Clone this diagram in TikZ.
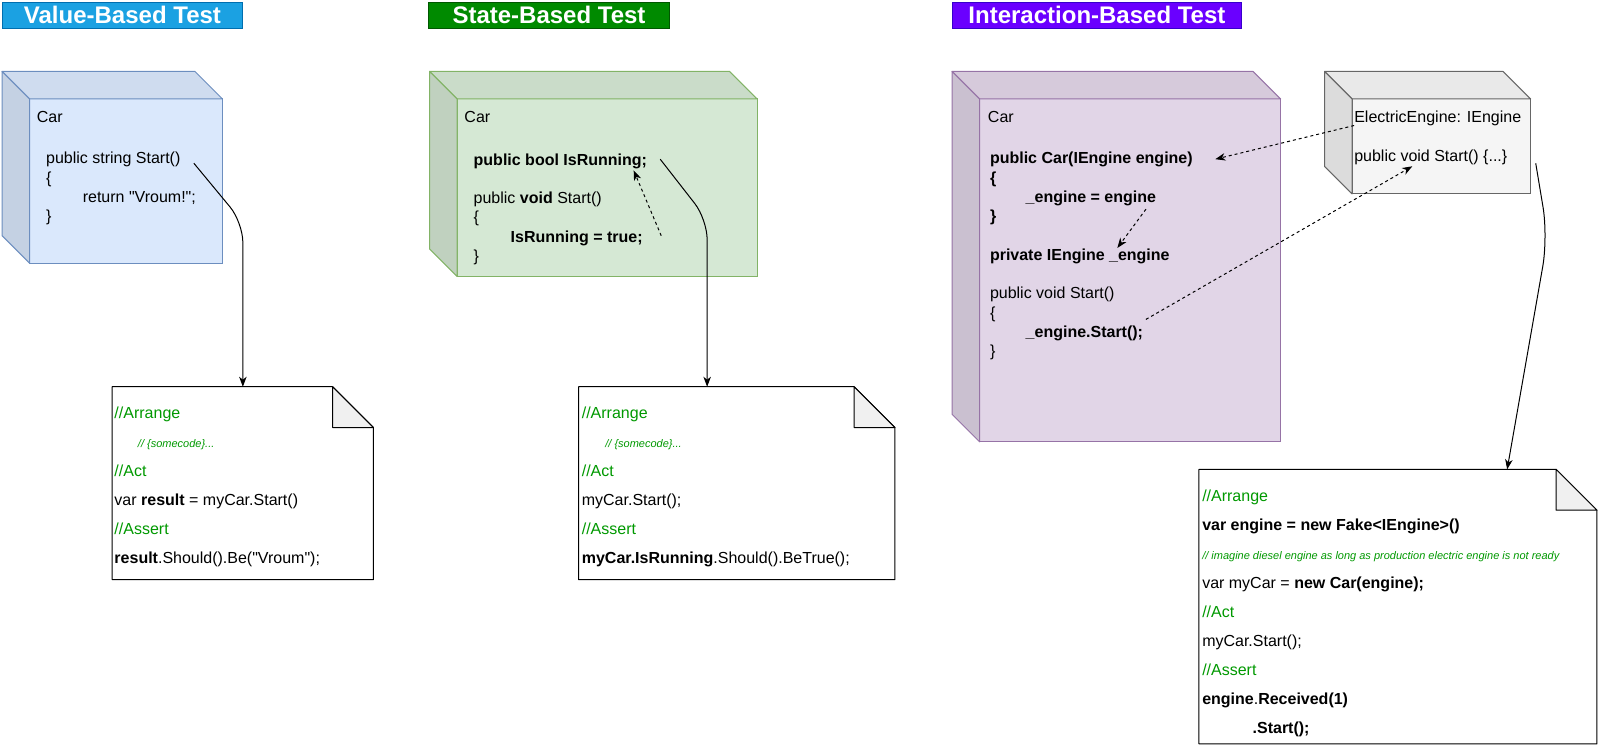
\documentclass[tikz,border=0pt]{standalone}
\usepackage{fontspec}
\setmainfont{Liberation Sans}[Ligatures=TeXOff]
\usetikzlibrary{arrows.meta,fit}

\definecolor{vtitle}{HTML}{1BA1E2}
\definecolor{vtitleline}{HTML}{006EAF}
\definecolor{stitle}{HTML}{008A00}
\definecolor{stitleline}{HTML}{005700}
\definecolor{ititle}{HTML}{6A00FF}
\definecolor{ititleline}{HTML}{3700CC}
\definecolor{vfill}{HTML}{DAE8FC}
\definecolor{vline}{HTML}{6C8EBF}
\definecolor{sfill}{HTML}{D5E8D4}
\definecolor{sline}{HTML}{82B366}
\definecolor{ifill}{HTML}{E1D5E7}
\definecolor{iline}{HTML}{9673A6}
\definecolor{efill}{HTML}{F5F5F5}
\definecolor{eline}{HTML}{666666}
\definecolor{cgreen}{RGB}{0,153,0}

\newcommand{\cmt}[1]{{\fontsize{11}{13}\selectfont\itshape\color{cgreen}#1}}

\begin{document}
\begin{tikzpicture}
[x=1.0204pt, y=-1.0204pt,
titlebox/.style={rectangle, line width=1pt, inner sep=0, text=white,
minimum height=26.5pt,
font=\fontsize{24}{28}\selectfont\bfseries},
front/.style={rectangle, line width=1pt, inner sep=0, outer sep=0},
depth/.style={line width=1pt, line join=round},
notebox/.style={draw=black, line width=1pt, line join=round},
txt/.style={anchor=base west, inner sep=0, align=left,
font=\fontsize{16}{19.3}\selectfont},
notetxt/.style={txt, font=\fontsize{16}{29}\selectfont},
link/.style={draw, line width=1pt, -{Stealth[length=10pt,width=7.5pt,inset=3pt]}}]
\useasboundingbox (0,0) rectangle (1568,731.1);

% titles
\node [titlebox, fill=vtitle, draw=vtitleline, minimum width=240.8pt] (tV) at (120,15) {Value-Based Test};
\node [titlebox, fill=stitle, draw=stitleline, minimum width=240.8pt] (tS) at (538,15) {State-Based Test};
\node [titlebox, fill=ititle, draw=ititleline, minimum width=289.8pt] (tI) at (1075,15) {Interaction-Based Test};

% cube fronts
\node [front, fill=vfill, draw=vline, fit={(29,97) (218,258)}] (carV) {};
\node [front, fill=sfill, draw=sline, fit={(448,97) (742,271)}] (carS) {};
\node [front, fill=ifill, draw=iline, fit={(960,97) (1255,433)}] (carI) {};
\node [front, fill=efill, draw=eline, fit={(1325,97) (1500,190)}] (engE) {};

% cube top and side
\foreach \c/\col/\ln in {carV/vfill/vline, carS/sfill/sline, carI/ifill/iline, engE/efill/eline} {
  \filldraw [depth, fill=\col!95!black, draw=\ln] (\c.north west) -- ++(-27,-27)
    -- ([shift={(-27,-27)}]\c.north east) -- (\c.north east) -- cycle;
  \filldraw [depth, fill=\col!90!black, draw=\ln] (\c.north west) -- ++(-27,-27)
    -- ([shift={(-27,-27)}]\c.south west) -- (\c.south west) -- cycle;
}

% notes
\node [inner sep=0, outer sep=0, fit={(110,379) (366,568)}] (noteV) {};
\node [inner sep=0, outer sep=0, fit={(567,379) (877,568)}] (noteS) {};
\node [inner sep=0, outer sep=0, fit={(1175,460) (1565,729)}] (noteI) {};
\foreach \n in {noteV,noteS,noteI} {
  \draw [notebox, fill=white] (\n.south west) -- (\n.north west) -- ([xshift=-40.8pt]\n.north east)
    -- ([yshift=-40.8pt]\n.north east) -- (\n.south east) -- cycle;
  \draw [notebox, fill=black!6] ([xshift=-40.8pt]\n.north east) -- ([xshift=-40.8pt,yshift=-40.8pt]\n.north east)
    -- ([yshift=-40.8pt]\n.north east) -- cycle;
}

% value-based test (nodes sit on the baseline of their last line)
\node [txt] (vName) at (36,120.5) {Car};
\node [txt] (vCode) at (45,217.4) {public string Start()\\ \{\\ \hspace*{36.7pt}return "Vroum!";\\ \}};
\node [notetxt] (vTest) at (112,552.1) {\textcolor{cgreen}{//Arrange}\\
\hspace*{23.5pt}\cmt{// \{somecode\}...}\\
\textcolor{cgreen}{//Act}\\
var \textbf{result} = myCar.Start()\\
\textcolor{cgreen}{//Assert}\\
\textbf{result}.Should().Be("Vroum");};

% state-based test
\node [txt] (sName) at (455,120.5) {Car};
\node [txt] (sCode) at (464,256.3) {\textbf{public bool IsRunning;}\\ \\
public \textbf{void} Start()\\ \{\\ \hspace*{37pt}\textbf{IsRunning = true;}\\ \}};
\node [notetxt] (sTest) at (570,552.1) {\textcolor{cgreen}{//Arrange}\\
\hspace*{23.5pt}\cmt{// \{somecode\}...}\\
\textcolor{cgreen}{//Act}\\
myCar.Start();\\
\textcolor{cgreen}{//Assert}\\
\textbf{myCar.IsRunning}.Should().BeTrue();};

% interaction-based test
\node [txt] (iName) at (968,120.5) {Car};
\node [txt] (iCode) at (970,349.6) {\textbf{public Car(IEngine engine)}\\ \textbf{\{}\\
\hspace*{35.7pt}\textbf{\_engine = engine}\\ \textbf{\}}\\ \\
\textbf{private IEngine \_engine}\\ \\
public void Start()\\ \{\\ \hspace*{35.7pt}\textbf{\_engine.Start();}\\ \}};
\node [txt] (eCode) at (1327,158.3) {ElectricEngine: IEngine\\ \\ public void Start() \{...\}};
\node [notetxt] (iTest) at (1178,718.4) {\textcolor{cgreen}{//Arrange}\\
\textbf{var engine = new Fake<IEngine>()}\\
\cmt{// imagine diesel engine as long as production electric engine is not ready}\\
var myCar = \textbf{new Car(engine);}\\
\textcolor{cgreen}{//Act}\\
myCar.Start();\\
\textcolor{cgreen}{//Assert}\\
\textbf{engine}.\textbf{Received(1)}\\
\hspace*{50.4pt}\textbf{.Start();}};

% connector ends
\coordinate (vOut) at (190,160);
\coordinate (vBend) at (238,218);
\coordinate (sOut) at (647,156);
\coordinate (sBend) at (693,215);
\coordinate (sSet) at (648,231);
\coordinate (sField) at (621,167);
\coordinate (eType) at (1327,123);
\coordinate (iCtor) at (1191,156);
\coordinate (iAssign) at (1123,205);
\coordinate (iField) at (1095,243);
\coordinate (iCall) at (1123,313);
\coordinate (eStart) at (1384,163);
\coordinate (eOut) at (1505,160);
\coordinate (eBend) at (1517,232);
\coordinate (eIn) at (1477,460);

\begin{scope}[every path/.style=link]
\path [rounded corners=20pt] (vOut) -- (vBend) -- (noteV.north);
\path [rounded corners=20pt] (sOut) -- (sBend) -- (sBend |- noteS.north);
\path [dash pattern=on 3pt off 3pt] (sSet) -- (sField);
\path [dash pattern=on 3pt off 3pt] (eType) -- (iCtor);
\path [dash pattern=on 3pt off 3pt] (iAssign) -- (iField);
\path [dash pattern=on 3pt off 3pt] (iCall) -- (eStart);
\path [rounded corners=30pt] (eOut) -- (eBend) -- (eIn);
\end{scope}
\end{tikzpicture}
\end{document}
